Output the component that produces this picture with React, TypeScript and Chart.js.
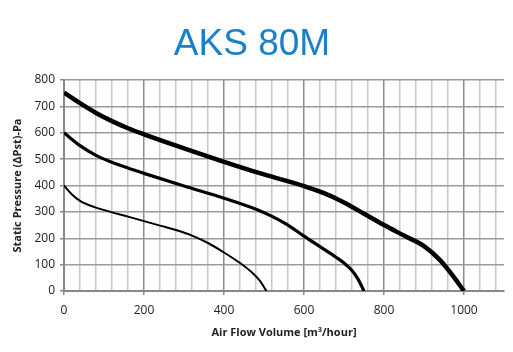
import React, { useEffect, useRef } from "react";
import { Chart, registerables } from "chart.js";

Chart.register(...registerables);

const TITLE = "AKS 80M";
const X_TITLE = "Air Flow Volume [m³/hour]";
const Y_TITLE = "Static Pressure (ΔPst)-Pa";

// Thick curve (largest speed)
const HIGH_X = [0, 40, 80, 120, 160, 200, 300, 400, 500, 600, 650, 700, 750, 800, 850, 900, 940, 970, 1000];
const HIGH_Y = [752, 712, 675, 644, 617, 594, 541, 490, 442, 398, 371, 336, 293, 250, 210, 170, 117, 62, 0];

// Medium curve
const MID_X = [0, 40, 80, 120, 160, 200, 300, 400, 480, 520, 560, 600, 640, 680, 700, 720, 735, 750];
const MID_Y = [600, 551, 514, 488, 466, 446, 398, 352, 310, 283, 250, 208, 168, 128, 106, 78, 45, 0];

// Thin curve (lowest speed)
const LOW_X = [0, 20, 40, 60, 80, 120, 160, 200, 240, 280, 320, 360, 400, 440, 470, 490, 506];
const LOW_Y = [400, 366, 342, 327, 316, 298, 282, 265, 248, 231, 210, 182, 146, 106, 70, 38, 0];

const X_MAX = 1100;
const X_STEP = 40;
const X_LABEL_STEP = 200;
const Y_MAX = 800;
const Y_STEP = 100;

const toPoints = (xs: number[], ys: number[]) => xs.map((x, i) => ({ x, y: ys[i] }));

export default function App() {
  const ref = useRef<HTMLCanvasElement | null>(null);

  useEffect(() => {
    document.body.style.margin = "0";
    if (!ref.current) return;
    const line = { showLine: true, borderColor: "#000", pointRadius: 0, cubicInterpolationMode: "monotone" };
    const chart = new Chart(ref.current, {
      type: "scatter",
      data: {
        datasets: [
          { ...line, data: toPoints(HIGH_X, HIGH_Y), borderWidth: 4.5 },
          { ...line, data: toPoints(MID_X, MID_Y), borderWidth: 3.2 },
          { ...line, data: toPoints(LOW_X, LOW_Y), borderWidth: 2 },
        ],
      },
      options: {
        animation: false,
        responsive: false,
        layout: { padding: { left: 0, right: 9, top: 0, bottom: 0 } },
        plugins: {
          legend: { display: false },
          tooltip: { enabled: false },
          title: {
            display: true,
            text: TITLE,
            color: "#1a80c8",
            font: { family: "Liberation Sans", size: 37, weight: "normal", lineHeight: 1 },
            padding: { top: 26, bottom: 17 },
          },
        },
        scales: {
          x: {
            type: "linear",
            min: 0,
            max: X_MAX,
            afterBuildTicks: (scale: any) => {
              const t = [];
              for (let v = 0; v < X_MAX; v += X_STEP) t.push({ value: v });
              scale.ticks = t;
            },
            afterFit: (scale: any) => { scale.height = 61; },
            ticks: {
              autoSkip: false,
              maxRotation: 0,
              color: "#222",
              padding: 8,
              font: { family: "Open Sans", size: 12 },
              callback: (v: any) => (Number(v) % X_LABEL_STEP === 0 ? String(v) : ""),
            },
            grid: {
              color: (c: any) => (c.tick && c.tick.value % X_LABEL_STEP === 0 ? "#8c8c8c" : "#c8c8c8"),
              lineWidth: 1.5,
              tickLength: 4,
              tickColor: (c: any) => (c.tick && c.tick.value % X_LABEL_STEP === 0 ? "#888" : "rgba(0,0,0,0)"),
            },
            border: { display: true, color: "#888", width: 2 },
            title: {
              display: true,
              text: X_TITLE,
              color: "#222",
              font: { family: "Open Sans", size: 11, weight: "bold" },
              padding: { top: 6, bottom: 13 },
            },
          },
          y: {
            type: "linear",
            min: 0,
            max: Y_MAX,
            afterFit: (scale: any) => { scale.width = 64; },
            ticks: {
              stepSize: Y_STEP,
              color: "#222",
              padding: 5,
              font: { family: "Open Sans", size: 12 },
            },
            grid: { color: "#9a9a9a", lineWidth: 1.5, tickLength: 4, tickColor: "#888" },
            border: { display: true, color: "#888", width: 2 },
            title: {
              display: true,
              text: Y_TITLE,
              color: "#222",
              font: { family: "Open Sans", size: 11, weight: "bold" },
              padding: { top: 11, bottom: 4 },
            },
          },
        },
      },
    } as any);
    return () => chart.destroy();
  }, []);

  return <canvas ref={ref} width={513} height={352} style={{ display: "block" }} />;
}
